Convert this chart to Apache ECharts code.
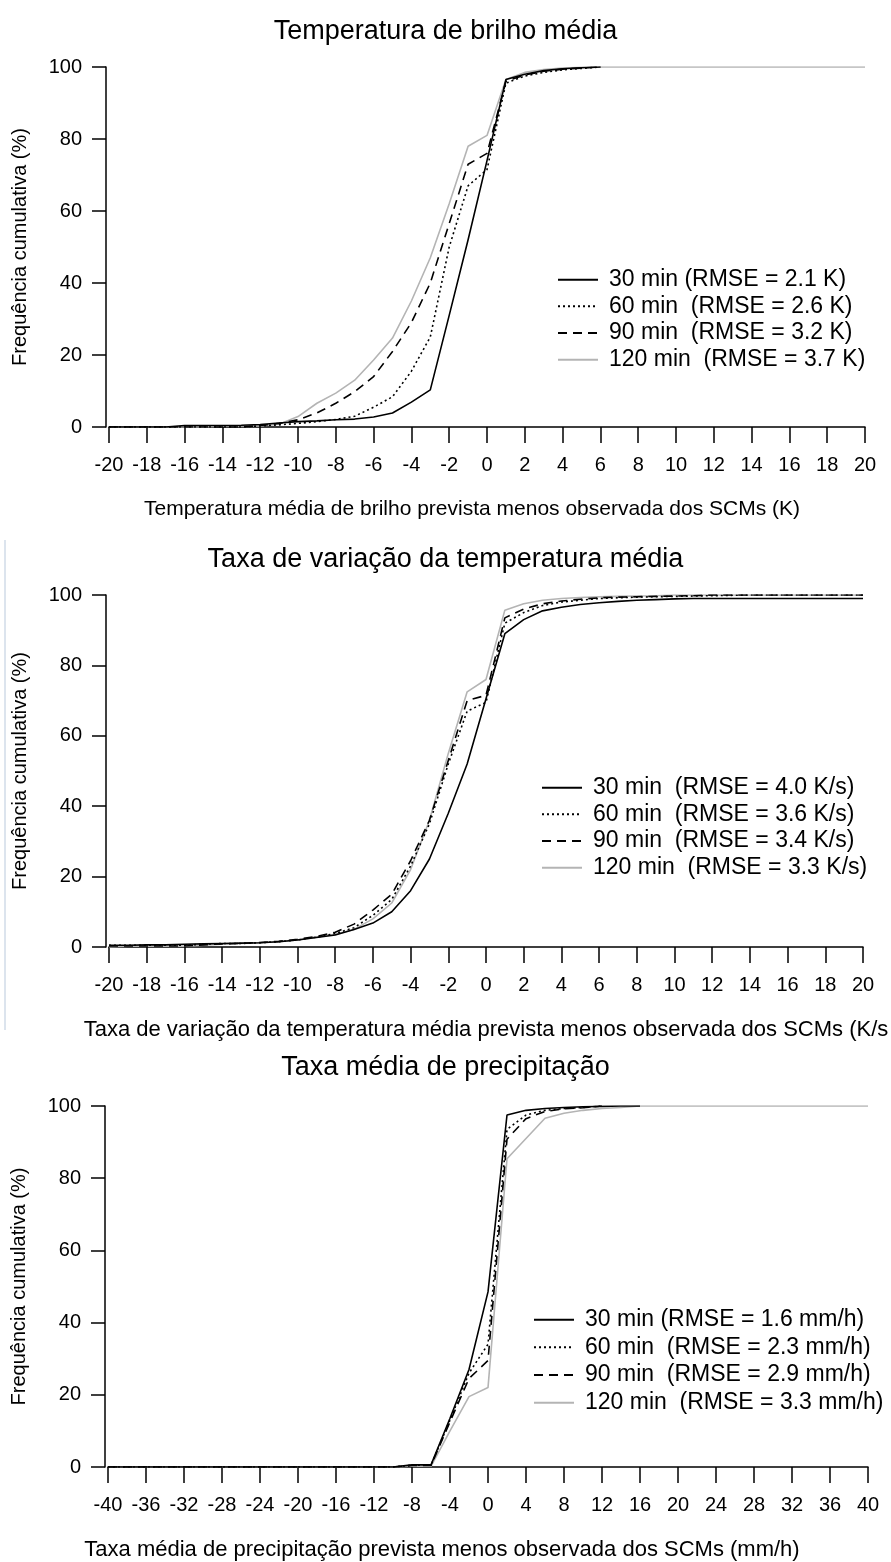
<!DOCTYPE html>
<html>
<head>
<meta charset="utf-8">
<script src="https://cdn.jsdelivr.net/npm/echarts@6/dist/echarts.min.js"></script>
<style>
html,body{margin:0;padding:0;background:#fff;}
#chart{width:891px;height:1562px;}
</style>
</head>
<body>
<div id="chart"></div>
<script>
// ---------- data ----------
var titles = ["Temperatura de brilho média", "Taxa de variação da temperatura média", "Taxa média de precipitação"];
var yName = "Frequência cumulativa (%)";
var xNames = [
  "Temperatura média de brilho prevista menos observada dos SCMs (K)",
  "Taxa de variação da temperatura média prevista menos observada dos SCMs (K/s",
  "Taxa média de precipitação prevista menos observada dos SCMs (mm/h)"
];
var legend1 = ["30 min (RMSE = 2.1 K)", "60 min  (RMSE = 2.6 K)", "90 min  (RMSE = 3.2 K)", "120 min  (RMSE = 3.7 K)"];
var legend2 = ["30 min  (RMSE = 4.0 K/s)", "60 min  (RMSE = 3.6 K/s)", "90 min  (RMSE = 3.4 K/s)", "120 min  (RMSE = 3.3 K/s)"];
var legend3 = ["30 min (RMSE = 1.6 mm/h)", "60 min  (RMSE = 2.3 mm/h)", "90 min  (RMSE = 2.9 mm/h)", "120 min  (RMSE = 3.3 mm/h)"];

// panel 1 : x = -20..20 step 1
var x1 = [-20,-19,-18,-17,-16,-15,-14,-13,-12,-11,-10,-9,-8,-7,-6,-5,-4,-3,-2,-1,0,1,2,3,4,5,6,7,8,9,10,11,12,13,14,15,16,17,18,19,20];
var p1_30  = [0,0,0,0,0.4,0.4,0.4,0.5,0.7,1.1,1.5,1.7,2.0,2.2,2.8,3.9,6.9,10.3,31,52,74,96.5,98,99,99.5,99.8,100,null,null,null,null,null,null,null,null,null,null,null,null,null,null];
var p1_60  = [0,0,0,0,0,0,0,0,0.3,0.6,1.0,1.5,2.1,3.0,5.5,8.4,15.5,25,50,67,71.5,95.5,97.5,98.5,99.2,99.6,100,null,null,null,null,null,null,null,null,null,null,null,null,null,null];
var p1_90  = [0,0,0,0,0,0,0,0,0.4,1.0,2.0,3.9,6.6,9.8,14,21,29,40,56.5,73,76,96,97.8,98.8,99.4,99.7,100,null,null,null,null,null,null,null,null,null,null,null,null,null,null];
var p1_120 = [0,0,0,0,0,0,0.3,0.3,0.3,0.8,2.9,6.6,9.4,13,18.6,24.7,35,47,62,78,81,96.5,98.5,99.3,99.7,99.9,100,100,100,100,100,100,100,100,100,100,100,100,100,100,100];

// panel 2 : x = -20..20 step 1
var x2 = x1;
var p2_30  = [0.5,0.5,0.6,0.6,0.8,0.9,1.0,1.1,1.2,1.5,2.0,2.7,3.4,5.0,6.8,10,16,25,38,52,70.5,89,93,95.5,96.5,97.3,97.8,98.2,98.5,98.7,98.9,99,99,99,99,99,99,99,99,99,99];
var p2_60  = [0.5,0.5,0.5,0.5,0.5,0.8,1.0,1.0,1.2,1.5,2.0,2.8,3.8,5.5,9,13.5,23,35,52,67,69.5,92,95,97,98,98.5,99,99.2,99.4,99.5,99.6,99.7,99.8,99.9,100,100,100,100,100,100,100];
var p2_90  = [0.3,0.3,0.3,0.3,0.3,0.6,0.9,1.0,1.3,1.6,2.2,3.0,4.2,6.5,10.5,15,24.5,36,53,70,71.5,93.5,96,97.5,98.3,98.8,99.2,99.4,99.5,99.6,99.7,99.8,100,100,100,100,100,100,100,100,100];
var p2_120 = [0,0.2,0.2,0.2,0.2,0.5,0.8,1.0,1.2,1.5,2.0,2.8,3.6,5.0,8,12.5,22,36,55,72.5,76,95.7,97.5,98.5,99,99.3,99.5,99.6,99.7,99.8,100,100,100,100,100,100,100,100,100,100,100];

// panel 3 : x = -40..40 step 2
var x3 = [-40,-38,-36,-34,-32,-30,-28,-26,-24,-22,-20,-18,-16,-14,-12,-10,-8,-6,-4,-2,0,2,4,6,8,10,12,14,16,18,20,22,24,26,28,30,32,34,36,38,40];
var p3_30  = [0,0,0,0,0,0,0,0,0,0,0,0,0,0,0,0,0.6,0.6,13.5,27,48.5,97.5,98.8,99.3,99.6,99.8,99.9,100,100,null,null,null,null,null,null,null,null,null,null,null,null];
var p3_60  = [0,0,0,0,0,0,0,0,0,0,0,0,0,0,0,0,0.5,0.5,13,26,34,93.5,97.5,98.8,99.3,99.6,100,null,null,null,null,null,null,null,null,null,null,null,null,null,null];
var p3_90  = [0,0,0,0,0,0,0,0,0,0,0,0,0,0,0,0,0.4,0.4,12.5,24.5,29.5,90.8,96.5,98.5,99.2,99.5,100,null,null,null,null,null,null,null,null,null,null,null,null,null,null];
var p3_120 = [0,0,0,0,0,0,0,0,0,0,0,0,0,0,0,0,0.2,0.2,10,19.5,22,85.4,91,96.6,98,98.8,99.3,99.6,100,100,100,100,100,100,100,100,100,100,100,100,100];

var xTicks = [{min:-20,max:20,interval:2},{min:-20,max:20,interval:2},{min:-40,max:40,interval:4}];

// ---------- chart ----------
var FONT = "Liberation Sans, Arial, sans-serif";
var grids = [
  {left:109, top:67,   width:756, height:360},
  {left:109, top:595,  width:754, height:352},
  {left:108, top:1106, width:760, height:361}
];
var styles = [
  {color:'#000', width:1.6, type:'solid'},
  {color:'#000', width:1.6, type:[2,3]},
  {color:'#000', width:1.6, type:[9,6]},
  {color:'#b4b4b4', width:1.6, type:'solid'}
];
var LEGFS = 23;
var panels = [
  {xs:x1, vals:[p1_30,p1_60,p1_90,p1_120], names:legend1, legTop:281.5, legLeft:557, gap:26.7},
  {xs:x2, vals:[p2_30,p2_60,p2_90,p2_120], names:legend2, legTop:789.5, legLeft:541, gap:26.7},
  {xs:x3, vals:[p3_30,p3_60,p3_90,p3_120], names:legend3, legTop:1322, legLeft:533, gap:27.7}
];
var titleCenters = [27, 555, 1063];
var xNameSize = [21, 22, 22];
var xNamePad = [[0,30,0,0],[0,0,0,0],[0,92,0,0]];

var option = {
  backgroundColor:'#fff',
  animation:false,
  title: titles.map(function(t,i){
    return {text:t, left:'center', top:titleCenters[i]-14,
      textStyle:{fontFamily:FONT, fontSize:27, fontWeight:'normal', color:'#000'}};
  }),
  grid: grids,
  xAxis: xTicks.map(function(t,i){
    return {type:'value', gridIndex:i, min:t.min, max:t.max, interval:t.interval,
      name:xNames[i], nameLocation:'middle', nameGap:72,
      nameTextStyle:{fontFamily:FONT, fontSize:xNameSize[i], color:'#000', padding:xNamePad[i]},
      axisLine:{show:true, onZero:false, lineStyle:{color:'#000', width:1.5}},
      axisTick:{show:true, length:16, lineStyle:{color:'#000', width:1.5}},
      axisLabel:{fontFamily:FONT, fontSize:20, color:'#000', margin:28},
      splitLine:{show:false}};
  }),
  yAxis: [0,1,2].map(function(i){
    return {type:'value', gridIndex:i, min:0, max:100, interval:20, offset:3,
      name:yName, nameLocation:'middle', nameGap:76,
      nameTextStyle:{fontFamily:FONT, fontSize:20, color:'#000'},
      axisLine:{show:true, onZero:false, lineStyle:{color:'#000', width:1.5}},
      axisTick:{show:true, length:14, lineStyle:{color:'#000', width:1.5}},
      axisLabel:{fontFamily:FONT, fontSize:20, color:'#000', margin:24},
      splitLine:{show:false}};
  }),
  legend: panels.map(function(p){
    return {orient:'vertical', left:p.legLeft, top:p.legTop - p.gap/2, padding:0,
      itemWidth:40, itemHeight:14, itemGap:p.gap-LEGFS, data:p.names, selectedMode:false,
      itemStyle:{color:'rgba(0,0,0,0)', borderWidth:0, opacity:0},
      textStyle:{fontFamily:FONT, fontSize:LEGFS, color:'#000', padding:[0,0,0,6]}};
  }),
  graphic: [{type:'line', shape:{x1:5, y1:540, x2:5, y2:1030}, style:{stroke:'#b9c9dc', lineWidth:1}}],
  series: []
};
panels.forEach(function(p, pi){
  p.vals.forEach(function(v, si){
    option.series.push({
      type:'line', name:p.names[si], xAxisIndex:pi, yAxisIndex:pi,
      symbol:'none', z: si===3 ? 1 : 2+(3-si),
      lineStyle:styles[si], itemStyle:{color:styles[si].color},
      data:p.xs.map(function(x,k){ return [x, v[k]]; })
    });
  });
});
var chart = echarts.init(document.getElementById('chart'), null, {renderer:'canvas'});
chart.setOption(option);
</script>
</body>
</html>
